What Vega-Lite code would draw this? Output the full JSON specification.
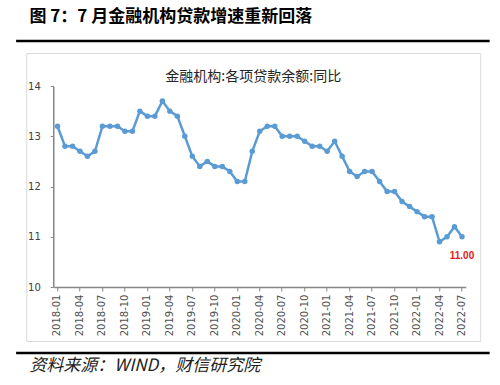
{
  "$schema": "https://vega.github.io/schema/vega-lite/v6.json",
  "background": "white",
  "padding": {"left": 16, "top": 6, "right": 5, "bottom": 5},
  "spacing": 9,
  "center": true,
  "config": {"font": "Noto Sans CJK SC"},
  "vconcat": [
    {
      "width": 471,
      "height": 0.01,
      "view": {"stroke": "black", "strokeWidth": 2.5},
      "title": {"text": "图 7：7 月金融机构贷款增速重新回落", "anchor": "start", "frame": "group", "dx": 12, "offset": 15, "fontSize": 17, "fontWeight": "bold", "font": "Noto Sans CJK SC", "color": "#000000"},
      "data": {"values": []},
      "mark": "rule",
      "encoding": {}
    },
    {
      "width": 454,
      "height": 288,
      "view": {"stroke": "#d9d9d9", "strokeWidth": 1},
      "title": {"text": "金融机构:各项贷款余额:同比", "anchor": "middle", "frame": "group", "offset": -31, "fontSize": 14, "fontWeight": "normal", "font": "Noto Sans CJK SC", "color": "#262626"},
      "data": {"values": [
        {"m": "2018-01", "v": 13.2}, {"m": "2018-02", "v": 12.8}, {"m": "2018-03", "v": 12.8}, {"m": "2018-04", "v": 12.7},
        {"m": "2018-05", "v": 12.6}, {"m": "2018-06", "v": 12.7}, {"m": "2018-07", "v": 13.2}, {"m": "2018-08", "v": 13.2},
        {"m": "2018-09", "v": 13.2}, {"m": "2018-10", "v": 13.1}, {"m": "2018-11", "v": 13.1}, {"m": "2018-12", "v": 13.5},
        {"m": "2019-01", "v": 13.4}, {"m": "2019-02", "v": 13.4}, {"m": "2019-03", "v": 13.7}, {"m": "2019-04", "v": 13.5},
        {"m": "2019-05", "v": 13.4}, {"m": "2019-06", "v": 13.0}, {"m": "2019-07", "v": 12.6}, {"m": "2019-08", "v": 12.4},
        {"m": "2019-09", "v": 12.5}, {"m": "2019-10", "v": 12.4}, {"m": "2019-11", "v": 12.4}, {"m": "2019-12", "v": 12.3},
        {"m": "2020-01", "v": 12.1}, {"m": "2020-02", "v": 12.1}, {"m": "2020-03", "v": 12.7}, {"m": "2020-04", "v": 13.1},
        {"m": "2020-05", "v": 13.2}, {"m": "2020-06", "v": 13.2}, {"m": "2020-07", "v": 13.0}, {"m": "2020-08", "v": 13.0},
        {"m": "2020-09", "v": 13.0}, {"m": "2020-10", "v": 12.9}, {"m": "2020-11", "v": 12.8}, {"m": "2020-12", "v": 12.8},
        {"m": "2021-01", "v": 12.7}, {"m": "2021-02", "v": 12.9}, {"m": "2021-03", "v": 12.6}, {"m": "2021-04", "v": 12.3},
        {"m": "2021-05", "v": 12.2}, {"m": "2021-06", "v": 12.3}, {"m": "2021-07", "v": 12.3}, {"m": "2021-08", "v": 12.1},
        {"m": "2021-09", "v": 11.9}, {"m": "2021-10", "v": 11.9}, {"m": "2021-11", "v": 11.7}, {"m": "2021-12", "v": 11.6},
        {"m": "2022-01", "v": 11.5}, {"m": "2022-02", "v": 11.4}, {"m": "2022-03", "v": 11.4}, {"m": "2022-04", "v": 10.9},
        {"m": "2022-05", "v": 11.0}, {"m": "2022-06", "v": 11.2}, {"m": "2022-07", "v": 11.0}
      ]},
      "encoding": {
        "x": {
          "field": "m", "type": "ordinal",
          "scale": {"type": "band", "range": [27.5, 439.5], "paddingInner": 0, "paddingOuter": 0},
          "axis": {
            "title": null,
            "values": ["2018-01", "2018-04", "2018-07", "2018-10", "2019-01", "2019-04", "2019-07", "2019-10", "2020-01", "2020-04", "2020-07", "2020-10", "2021-01", "2021-04", "2021-07", "2021-10", "2022-01", "2022-04", "2022-07"],
            "labelAngle": 270, "offset": -54, "grid": false,
            "domainColor": "#868686", "domainWidth": 1.5, "tickColor": "#868686", "tickSize": 4,
            "labelFont": "DejaVu Sans", "labelFontSize": 10, "labelColor": "#505050", "labelPadding": 3
          }
        },
        "y": {
          "field": "v", "type": "quantitative",
          "scale": {"domain": [10, 14], "range": [234, 33], "nice": false, "zero": false},
          "axis": {
            "title": null, "values": [10, 11, 12, 13, 14], "offset": -27, "grid": false,
            "domainColor": "#868686", "domainWidth": 1.5, "tickColor": "#868686", "tickSize": 3,
            "labelFont": "DejaVu Sans", "labelFontSize": 10, "labelColor": "#404040", "labelPadding": 10
          }
        }
      },
      "layer": [
        {"mark": {"type": "line", "color": "#5b9bd5", "strokeWidth": 2.5}},
        {"mark": {"type": "point", "filled": true, "color": "#5b9bd5", "size": 30, "opacity": 1}},
        {
          "transform": [{"filter": "datum.m == '2022-07'"}],
          "mark": {"type": "text", "dy": 19, "color": "#e02020", "font": "Liberation Sans", "fontSize": 10, "fontWeight": "bold"},
          "encoding": {"text": {"field": "v", "type": "quantitative", "format": ".2f"}}
        }
      ]
    },
    {
      "width": 471,
      "height": 0.01,
      "view": {"stroke": "black", "strokeWidth": 2.5},
      "title": {"text": "资料来源：WIND，财信研究院", "orient": "bottom", "anchor": "start", "frame": "group", "dx": 12, "offset": 5, "baseline": "top", "fontSize": 17, "fontStyle": "italic", "fontWeight": "normal", "font": "Noto Sans CJK SC", "color": "#222222"},
      "data": {"values": []},
      "mark": "rule",
      "encoding": {}
    }
  ]
}
